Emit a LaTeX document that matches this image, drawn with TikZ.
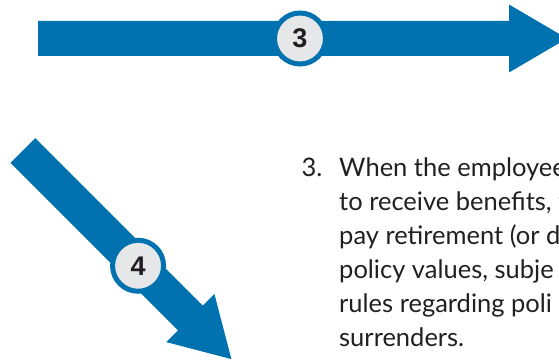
\documentclass[tikz,border=0pt]{standalone}
\usepackage{fontspec}
\setmainfont{Lato}
\setsansfont{Liberation Sans}

\definecolor{flowblue}{RGB}{0,114,175}
\definecolor{badgegrey}{RGB}{230,231,232}
\definecolor{inkgrey}{RGB}{35,31,32}

\tikzset{
  flow/.style={fill=flowblue},
  badge/.style={circle, draw=flowblue, line width=5pt, fill=badgegrey, minimum size=51pt,
    inner sep=0pt, text=inkgrey, font=\sffamily\bfseries\fontsize{27}{27}\selectfont},
  stepline/.style={anchor=base west, inner sep=0pt, text=inkgrey, font=\fontsize{25.5}{34}\selectfont}
}

% block arrow along local x, tail at the origin, #1 = shaft length
\newcommand{\blockarrow}[1]{%
  \fill[flow] (0,-17.5) -- (#1,-17.5) -- (#1,-34) -- (#1+58,0) -- (#1,34) -- (#1,17.5) -- (0,17.5) -- cycle;}

\begin{document}
\begin{tikzpicture}[x=1pt,y=-1pt]
        \useasboundingbox (0,0) rectangle (559,363);
        \clip (0,0) rectangle (559,363);

        % step 3: across the top
        \begin{scope}[shift={(38,38.5)}]
                \blockarrow{471}
                \node[badge] (badge3) at (262,0) {3};
        \end{scope}

        % step 4: down to the right
        \begin{scope}[shift={(22.8,150.5)}, rotate=-45]
                \blockarrow{237}
                \node[badge] (badge4) at (163,0) {4};
        \end{scope}

        % text of step 3
        \node[stepline] (num3) at (301.5,176.5) {3.};
        \foreach \txt [count=\i from 0] in {When the employee, {to receive benefits, t}, pay retirement (or d,
                        {policy values, subje}, rules regarding poli, surrenders.}
                \node[stepline] (line\i) at (339,176.5+34*\i) {\txt};
\end{tikzpicture}
\end{document}
